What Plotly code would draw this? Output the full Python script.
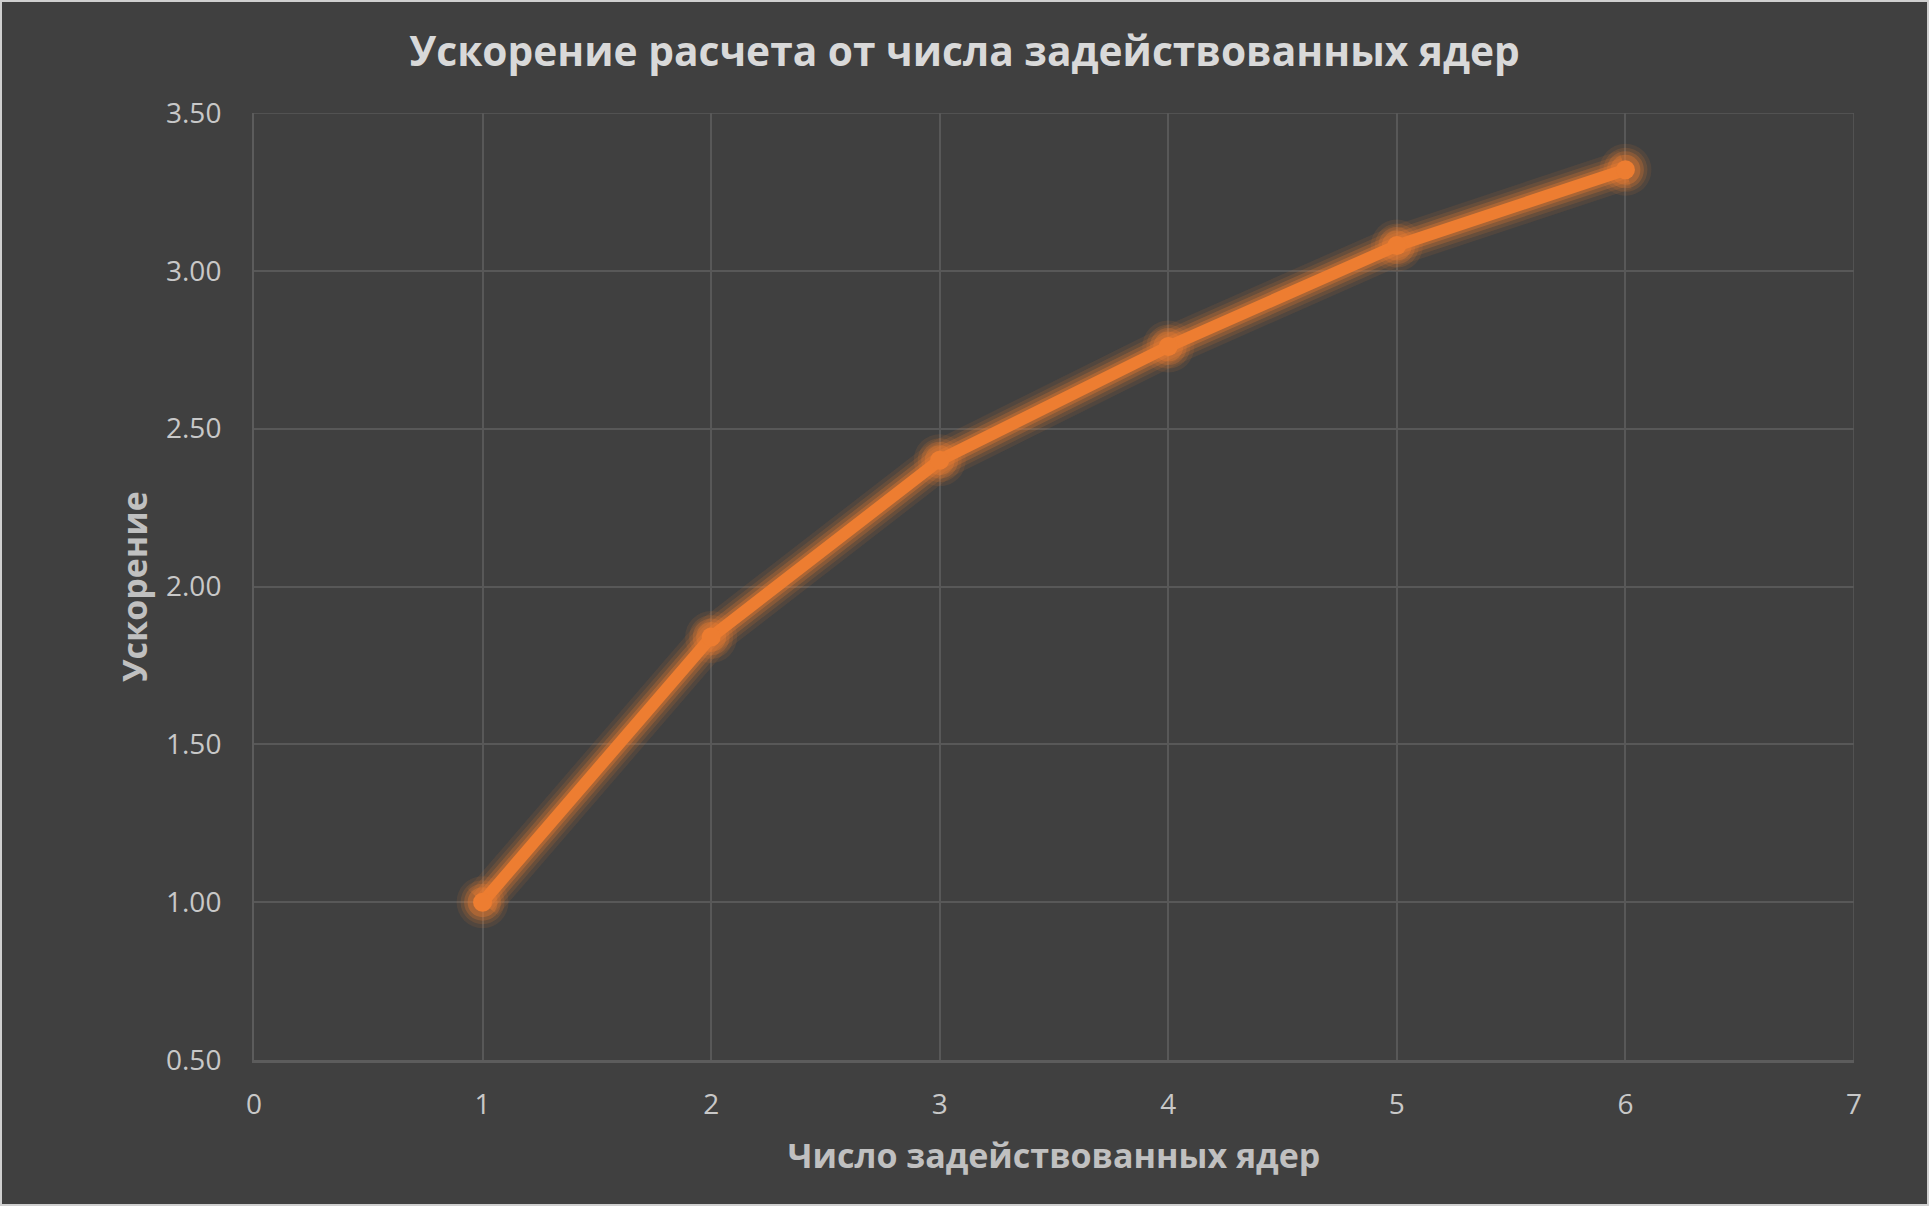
import plotly.graph_objects as go

# data
cores = [1, 2, 3, 4, 5, 6]
speedup = [1.00, 1.84, 2.40, 2.76, 3.08, 3.32]

title_text = 'Ускорение расчета от числа задействованных ядер'
x_title = 'Число задействованных ядер'
y_title = 'Ускорение'

orange = '#ED7D31'
bg = '#404040'
grid = '#585858'

W, H = 1929, 1206
ml, mr, mt, mb = 254, 75, 113, 146
pw, ph = W - ml - mr, H - mt - mb

fig = go.Figure()

# soft glow under the line (a few wide transparent strokes)
for w, a in [(40, 0.10), (32, 0.15), (25, 0.24), (18, 0.34)]:
    fig.add_trace(go.Scatter(
        x=cores, y=speedup, mode='lines+markers',
        line=dict(color=f'rgba(237,125,49,{a})', width=w),
        marker=dict(size=w + 12, color=f'rgba(237,125,49,{a})'),
        hoverinfo='skip', showlegend=False,
    ))

# main line
fig.add_trace(go.Scatter(
    x=cores, y=speedup, mode='lines+markers',
    line=dict(color=orange, width=12),
    marker=dict(size=19, color=orange),
    showlegend=False,
))

fig.update_layout(
    width=W, height=H,
    paper_bgcolor=bg, plot_bgcolor=bg,
    margin=dict(l=ml, r=mr, t=mt, b=mb),
    title=dict(text=title_text, x=0.5, xanchor='center', y=0.957, yanchor='middle',
               font=dict(family='Open Sans', size=40.7, color='#d9d9d9', weight='bold')),
    font=dict(family='Open Sans', color='#c8c8c8'),
)

# light outer frame of the chart
fig.add_shape(type='rect', xref='paper', yref='paper',
              x0=-ml / pw, x1=1 + mr / pw, y0=-mb / ph, y1=1 + mt / ph,
              line=dict(color='#d0d0d0', width=4), layer='above')

fig.update_xaxes(
    range=[0, 7], dtick=1, tick0=0,
    showgrid=True, gridcolor=grid, gridwidth=1.5,
    zeroline=False, showline=True, linecolor='#5c5c5c', linewidth=2.5,
    ticks='', ticklabelstandoff=18,
    tickfont=dict(size=28, color='#c8c8c8'),
    title=dict(text=x_title, standoff=23,
               font=dict(family='Open Sans', size=34, color='#c0c0c0', weight='bold')),
)

fig.update_yaxes(
    range=[0.5, 3.5], dtick=0.5, tick0=0.5, tickformat='.2f',
    showgrid=True, gridcolor=grid, gridwidth=1.5,
    zeroline=False, showline=True, linecolor='#5c5c5c', linewidth=2,
    ticks='', ticklabelstandoff=25,
    tickfont=dict(size=28, color='#c8c8c8'),
    title=dict(text=y_title, standoff=8,
               font=dict(family='Open Sans', size=34, color='#c0c0c0', weight='bold')),
)

# top and right edge of the plot area
fig.add_shape(type='line', xref='paper', yref='y', x0=0, x1=1, y0=3.5, y1=3.5,
              line=dict(color=grid, width=1.5), layer='below')
fig.add_shape(type='line', xref='x', yref='paper', x0=7, x1=7, y0=0, y1=1,
              line=dict(color=grid, width=1.5), layer='below')

fig.write_html('out.html', config={'displayModeBar': False},
               post_script="document.body.style.margin='0';")
